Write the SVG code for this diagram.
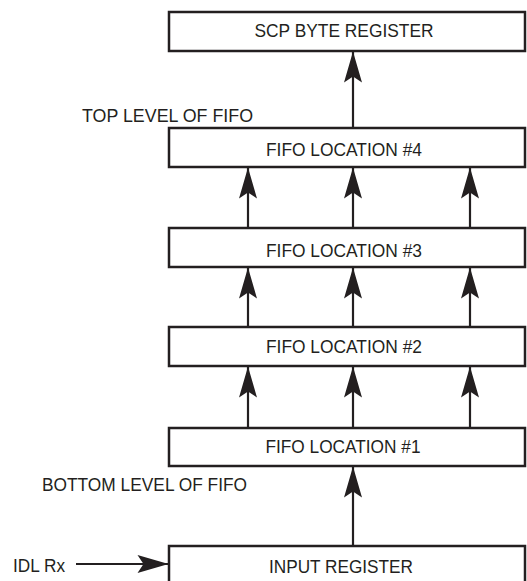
<svg xmlns="http://www.w3.org/2000/svg" width="527" height="581" viewBox="0 0 527 581">
<style>
.box{fill:#fff;stroke:#231f20;stroke-width:2.5}
.lbl{font-family:"Liberation Sans",Arial,sans-serif;font-size:19px;fill:#231f20}
.c{text-anchor:middle}
.conn{stroke:#231f20;stroke-width:2.2;fill:none;marker-end:url(#ah)}
</style>
<defs>
<marker id="ah" markerUnits="userSpaceOnUse" viewBox="-32 -10 34 20" refX="0" refY="0" markerWidth="34" markerHeight="20" orient="auto">
<path d="M0,0 L-31,-9 L-25,0 L-31,9 Z" fill="#231f20"/>
</marker>
</defs>
<rect width="527" height="581" fill="#fff"/>
<g id="connectors">
<line class="conn" x1="353" y1="128" x2="353" y2="51.5"/>
<line class="conn" x1="248" y1="228" x2="248" y2="167.5"/>
<line class="conn" x1="353" y1="228" x2="353" y2="167.5"/>
<line class="conn" x1="470" y1="228" x2="470" y2="167.5"/>
<line class="conn" x1="248" y1="327" x2="248" y2="267.5"/>
<line class="conn" x1="353" y1="327" x2="353" y2="267.5"/>
<line class="conn" x1="470" y1="327" x2="470" y2="267.5"/>
<line class="conn" x1="248" y1="428" x2="248" y2="366.5"/>
<line class="conn" x1="353" y1="428" x2="353" y2="366.5"/>
<line class="conn" x1="470" y1="428" x2="470" y2="366.5"/>
<line class="conn" x1="353" y1="547" x2="353" y2="466.5"/>
<line class="conn" x1="76" y1="564" x2="168.5" y2="564"/>
</g>
<g id="scp">
<rect class="box" x="169" y="12" width="356" height="39"/>
<text class="lbl c" x="344" y="37" textLength="179" lengthAdjust="spacingAndGlyphs">SCP BYTE REGISTER</text>
</g>
<g id="fifo4">
<rect class="box" x="169" y="128" width="356" height="39"/>
<text class="lbl c" x="344" y="156" textLength="156" lengthAdjust="spacingAndGlyphs">FIFO LOCATION #4</text>
</g>
<g id="fifo3">
<rect class="box" x="169" y="228" width="356" height="39"/>
<text class="lbl c" x="344" y="257" textLength="156" lengthAdjust="spacingAndGlyphs">FIFO LOCATION #3</text>
</g>
<g id="fifo2">
<rect class="box" x="169" y="327" width="356" height="39"/>
<text class="lbl c" x="344" y="353" textLength="156" lengthAdjust="spacingAndGlyphs">FIFO LOCATION #2</text>
</g>
<g id="fifo1">
<rect class="box" x="169" y="428" width="356" height="38"/>
<text class="lbl c" x="343" y="453" textLength="155" lengthAdjust="spacingAndGlyphs">FIFO LOCATION #1</text>
</g>
<g id="input">
<rect class="box" x="169" y="546" width="356" height="45"/>
<text class="lbl c" x="341" y="573" textLength="144" lengthAdjust="spacingAndGlyphs">INPUT REGISTER</text>
</g>
<g id="labels">
<text class="lbl" x="82" y="122" textLength="171" lengthAdjust="spacingAndGlyphs">TOP LEVEL OF FIFO</text>
<text class="lbl" x="42" y="491" textLength="205" lengthAdjust="spacingAndGlyphs">BOTTOM LEVEL OF FIFO</text>
<text class="lbl" x="13" y="572" textLength="52" lengthAdjust="spacingAndGlyphs">IDL Rx</text>
</g>
</svg>
